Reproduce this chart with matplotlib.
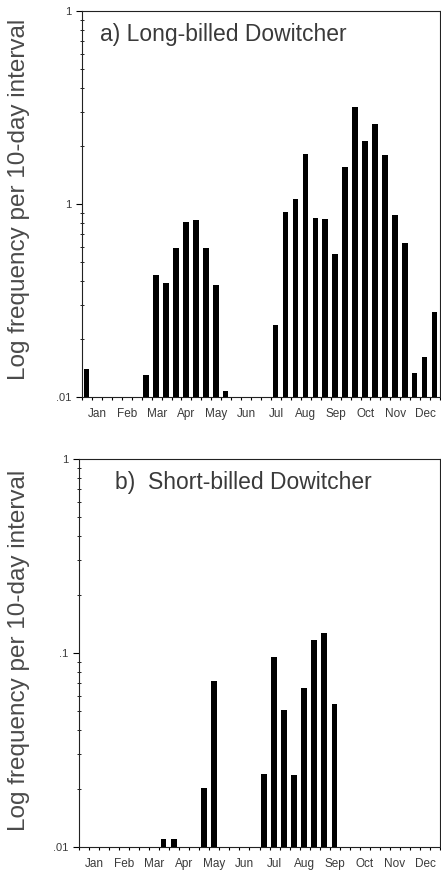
import matplotlib.pyplot as plt
import matplotlib.ticker as mticker
import numpy as np

plt.rcParams['font.family'] = ['Liberation Sans', 'DejaVu Sans']

# 36 ten-day intervals, Jan to Dec
months = ["Jan", "Feb", "Mar", "Apr", "May", "Jun",
          "Jul", "Aug", "Sep", "Oct", "Nov", "Dec"]

# a) Long-billed Dowitcher, frequency per 10-day interval (0 = no bar)
long_billed = [0.014, 0, 0, 0, 0, 0,
               0.013, 0.043, 0.039, 0.059, 0.081, 0.083,
               0.059, 0.038, 0.0107, 0, 0, 0,
               0, 0.0236, 0.091, 0.106, 0.182, 0.085,
               0.084, 0.055, 0.156, 0.318, 0.212, 0.260,
               0.179, 0.088, 0.063, 0.0133, 0.0161, 0.0276]

# b) Short-billed Dowitcher
short_billed = [0, 0, 0, 0, 0, 0,
                0, 0, 0.011, 0.011, 0, 0,
                0.0201, 0.0717, 0, 0, 0, 0,
                0.0238, 0.095, 0.0508, 0.0235, 0.066, 0.117,
                0.127, 0.0546, 0, 0, 0, 0,
                0, 0, 0, 0, 0, 0]

titles = ["a) Long-billed Dowitcher", "b)  Short-billed Dowitcher"]
ytick_labels = [[".01", "1", "1"], [".01", ".1", "1"]]
ylabel = "Log frequency per 10-day interval"

fig = plt.figure(figsize=(4.41, 8.72), dpi=100)
ax_a = fig.add_axes([0.186, 0.5447, 0.812, 0.4427])
ax_b = fig.add_axes([0.179, 0.0287, 0.819, 0.445])

text_col = "#3a3a3a"

for ax, vals, title, ylabels, tx in [(ax_a, long_billed, titles[0], ytick_labels[0], 0.05),
                                     (ax_b, short_billed, titles[1], ytick_labels[1], 0.10)]:
    vals = np.array(vals)
    x = np.arange(len(vals)) + 0.45
    keep = vals > 0
    ax.set_yscale('log')
    ax.bar(x[keep], vals[keep], width=0.55, color='black')
    ax.set_ylim(0.01, 1)
    ax.set_xlim(0, 36)

    # y ticks
    ax.yaxis.set_major_locator(mticker.FixedLocator([0.01, 0.1, 1]))
    ax.yaxis.set_major_formatter(mticker.FixedFormatter(ylabels))
    ax.yaxis.set_minor_locator(mticker.LogLocator(base=10, subs=np.arange(2, 10)))
    ax.yaxis.set_minor_formatter(mticker.NullFormatter())
    ax.tick_params(axis='y', which='major', direction='out', length=4, width=0.8,
                   labelsize=8, labelcolor=text_col)
    ax.tick_params(axis='y', which='minor', direction='inout', length=3, width=0.6)

    # x ticks: marks at interval boundaries, labels at month centres
    ax.xaxis.set_major_locator(mticker.FixedLocator(np.arange(0, 37)))
    ax.xaxis.set_major_formatter(mticker.NullFormatter())
    ax.xaxis.set_minor_locator(mticker.FixedLocator(np.arange(12) * 3 + 1.5))
    ax.xaxis.set_minor_formatter(mticker.FixedFormatter(months))
    ax.tick_params(axis='x', which='major', direction='out', length=2.5, width=0.8)
    ax.tick_params(axis='x', which='minor', length=0, labelsize=8.5,
                   labelcolor=text_col, pad=8)

    for sp in ax.spines.values():
        sp.set_linewidth(0.8)
        sp.set_color('#222222')

    ax.text(tx, 0.94, title, transform=ax.transAxes, fontsize=16.5,
            color=text_col, ha='left', va='center')

# y-axis titles, one per panel
fig.text(19 / 441, 1 - 199 / 872, ylabel, rotation=90, fontsize=17.5,
         color="#4a4a4a", ha='center', va='center')
fig.text(19 / 441, 1 - 650 / 872, ylabel, rotation=90, fontsize=17.5,
         color="#4a4a4a", ha='center', va='center')

fig.savefig("out.png", dpi=100)
